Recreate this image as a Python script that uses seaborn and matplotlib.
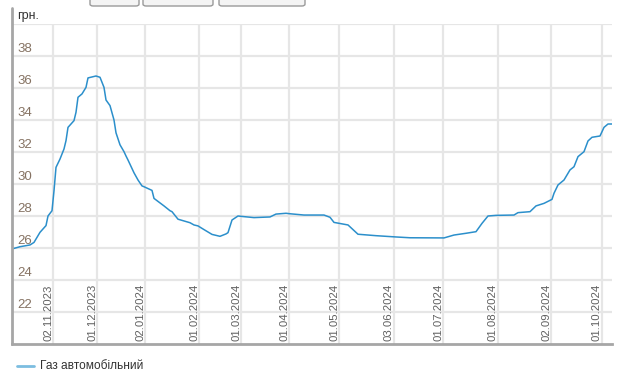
import matplotlib
matplotlib.use("Agg")
import matplotlib.pyplot as plt
import matplotlib.transforms as mtransforms
from matplotlib.patches import FancyBboxPatch
from matplotlib.lines import Line2D
import seaborn as sns
import pandas as pd

# observation index (trading-day order) and price, UAH
obs = [0, 4, 9, 11, 14, 17, 18, 20, 21, 22, 24, 26, 27, 28, 31, 32, 33, 35, 37, 38,
       42, 44, 46, 47, 49, 51, 52, 54, 56, 57, 58, 61, 63, 65, 66, 70, 71, 76, 79, 80,
       83, 89, 91, 93, 96, 100, 104, 107, 108, 110, 113, 116, 121, 129, 132, 137, 139,
       146, 156, 159, 161, 168, 173, 182, 192, 199, 216, 221, 227, 232, 235, 238, 242,
       251, 253, 259, 262, 266, 270, 271, 273, 276, 279, 281, 283, 286, 288, 290, 294,
       296, 298, 300]
price = [25.94, 26.08, 26.19, 26.35, 26.98, 27.40, 28.00, 28.33, 29.58, 31.04, 31.56,
         32.19, 32.71, 33.54, 33.96, 34.48, 35.42, 35.63, 36.04, 36.63, 36.75, 36.67,
         36.04, 35.25, 34.90, 34.00, 33.20, 32.45, 32.02, 31.75, 31.50, 30.70, 30.25,
         29.88, 29.83, 29.60, 29.10, 28.63, 28.33, 28.27, 27.80, 27.58, 27.44, 27.38,
         27.15, 26.85, 26.73, 26.88, 26.96, 27.75, 28.00, 27.96, 27.90, 27.94, 28.12,
         28.17, 28.14, 28.06, 28.06, 27.92, 27.60, 27.44, 26.86, 26.77, 26.69, 26.64,
         26.63, 26.81, 26.92, 27.02, 27.54, 28.00, 28.04, 28.06, 28.21, 28.27, 28.63,
         28.79, 29.04, 29.42, 29.94, 30.25, 30.88, 31.08, 31.71, 32.02, 32.69, 32.92,
         33.00, 33.54, 33.75, 33.75]

tick_obs = [20.5, 42.5, 66.5, 93.5, 114.5, 138.5, 163.5, 191, 215.5, 243, 269.5, 295]
tick_labels = ["02.11.2023", "01.12.2023", "02.01.2024", "01.02.2024", "01.03.2024",
               "01.04.2024", "01.05.2024", "03.06.2024", "01.07.2024", "01.08.2024",
               "02.09.2024", "01.10.2024"]
y_ticks = [22, 24, 26, 28, 30, 32, 34, 36, 38, 40]
series_name = "Газ автомобільний"
unit_label = "грн."

sns.set_style("white")
plt.rcParams['font.family'] = ['Liberation Sans', 'DejaVu Sans']

W, H = 642, 371
fig = plt.figure(figsize=(W / 100, H / 100), dpi=100)
ax = fig.add_axes([12 / W, 1 - 344 / H, 600 / W, 320 / H])

df = pd.DataFrame({"obs": obs, "price": price})
line_color = "#2b8fcb"
sns.lineplot(data=df, x="obs", y="price", ax=ax, color=line_color, linewidth=1.1,
             legend=False)

ax.set_xlim(0, 300)
ax.set_ylim(20, 40)
ax.set_xlabel("")
ax.set_ylabel("")

# grid
for yv in y_ticks:
    ax.axhline(yv, color="#e6e6e6", linewidth=1.6, zorder=0)
for xv in tick_obs:
    ax.axvline(xv, color="#e6e6e6", linewidth=1.6, zorder=0)

ax.set_xticks([])
ax.set_yticks([])
for s in ["top", "right", "left"]:
    ax.spines[s].set_visible(False)
ax.spines["bottom"].set_color("#a6a6a6")
ax.spines["bottom"].set_linewidth(2)

# left axis line extends above the plot area
fig.add_artist(Line2D([12 / W, 12 / W], [1 - 8 / H, 1 - 344 / H],
                      transform=fig.transFigure, color="#a6a6a6", linewidth=2))

# y labels inside plot, above gridlines
off_y = mtransforms.ScaledTranslation(5 / 100, 1 / 100, fig.dpi_scale_trans)
for yv in y_ticks[:-1]:
    ax.text(0, yv, str(yv), transform=ax.transData + off_y, ha="left", va="bottom",
            fontsize=9.5, color="#857262")

# x labels rotated inside plot
off_x = mtransforms.ScaledTranslation(-5 / 100, 3 / 100, fig.dpi_scale_trans)
for xv, lab in zip(tick_obs, tick_labels):
    ax.text(xv, 20, lab, transform=ax.transData + off_x, rotation=90, ha="center",
            va="bottom", fontsize=8.2, color="#606060")

fig.text(17 / W, 1 - 16 / H, unit_label, ha="left", va="center", fontsize=9,
         color="#333333")

# legend
fig.add_artist(Line2D([17 / W, 34 / W], [1 - 366 / H, 1 - 366 / H],
                      transform=fig.transFigure, color="#7cbde0", linewidth=2))
fig.text(40 / W, 1 - 366 / H, series_name, ha="left", va="center", fontsize=8.6,
         color="#333333")

# cropped toolbar buttons at top
for x0, x1 in [(90, 139), (143, 213), (219, 305)]:
    fig.patches.append(FancyBboxPatch((x0 / W, 1 - 6 / H), (x1 - x0) / W, 12 / H,
                                      boxstyle="round,pad=0,rounding_size=0.005",
                                      transform=fig.transFigure, facecolor="#f4f4f4",
                                      edgecolor="#9a9a9a", linewidth=1))

fig.savefig("out.png", dpi=100)
